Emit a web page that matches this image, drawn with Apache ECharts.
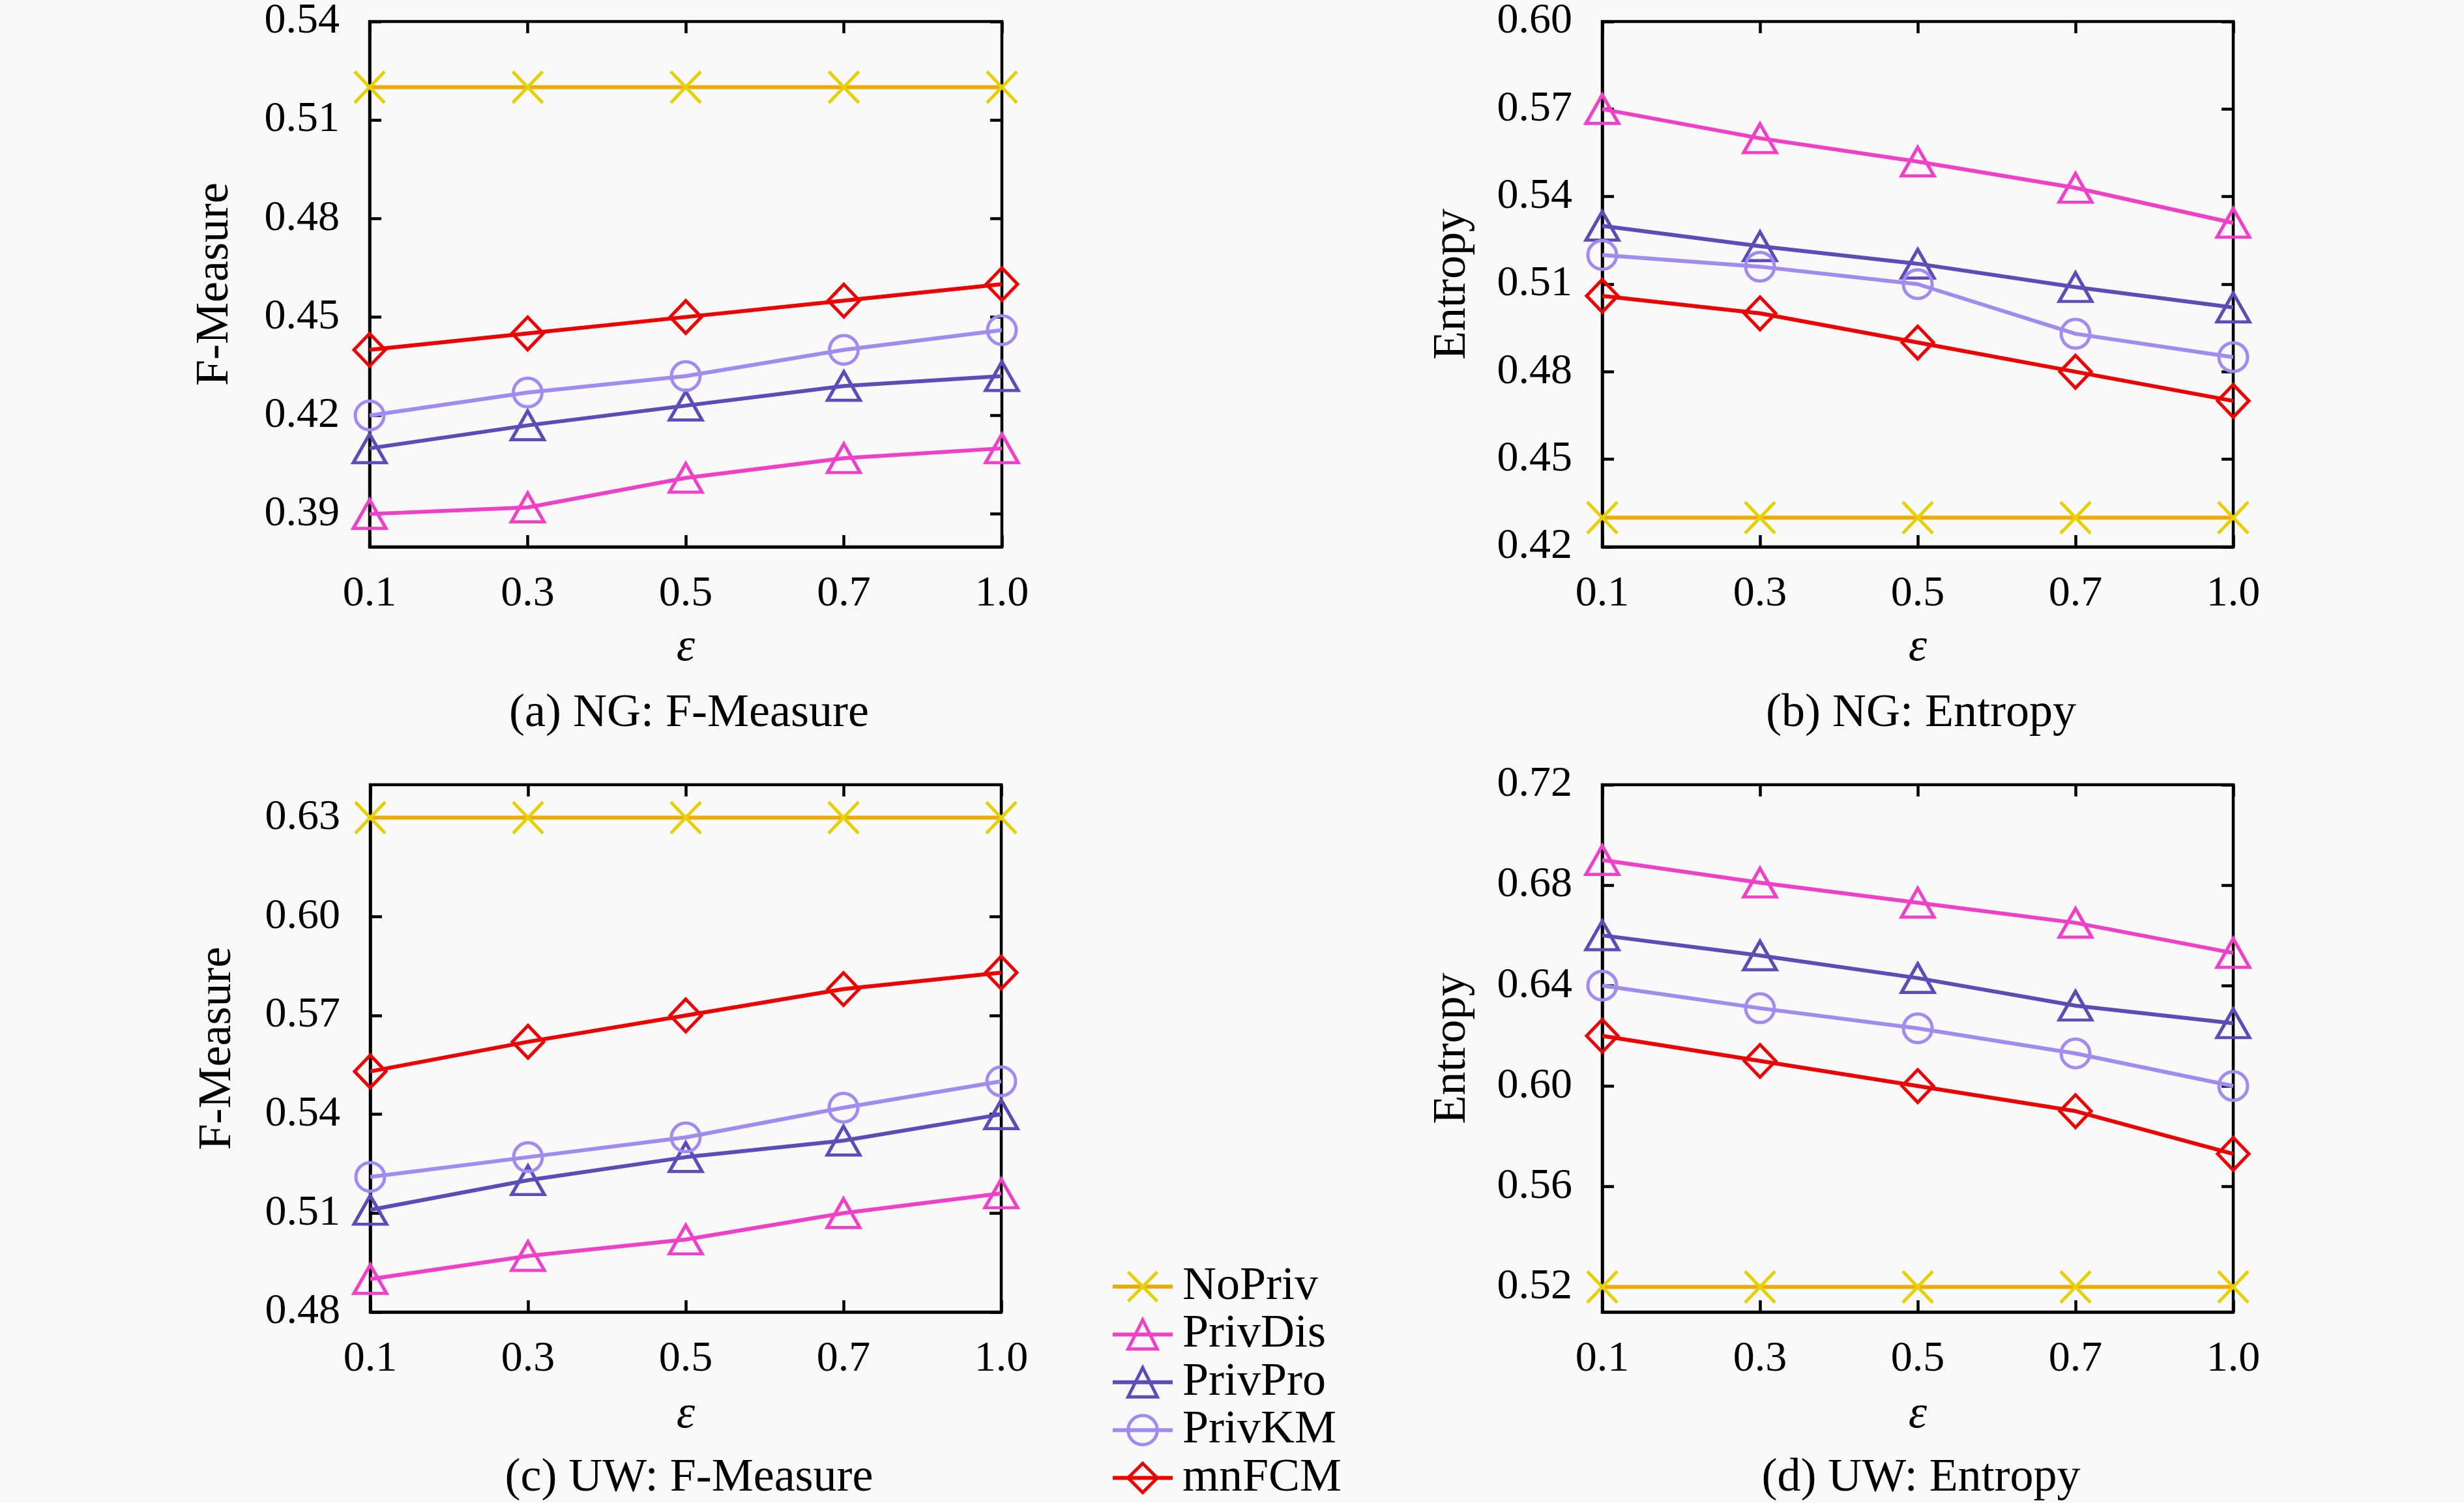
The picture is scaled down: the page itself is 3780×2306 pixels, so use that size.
<!DOCTYPE html>
<html><head><meta charset="utf-8">
<script src="https://cdn.jsdelivr.net/npm/echarts@6/dist/echarts.min.js"></script>
<style>html,body{margin:0;padding:0;background:#f9f9f9;}#c{width:3780px;height:2306px;}</style>
</head><body><div id="c"></div>
<script>
// ---- data ----
const epsilons = ['0.1', '0.3', '0.5', '0.7', '1.0'];
const seriesNames = ['NoPriv', 'PrivDis', 'PrivPro', 'PrivKM', 'mnFCM'];

// (a) NG: F-Measure
const ngF_NoPriv  = [0.52, 0.52, 0.52, 0.52, 0.52];
const ngF_PrivDis = [0.390, 0.392, 0.401, 0.407, 0.410];
const ngF_PrivPro = [0.410, 0.417, 0.423, 0.429, 0.432];
const ngF_PrivKM  = [0.420, 0.427, 0.432, 0.440, 0.446];
const ngF_mnFCM   = [0.440, 0.445, 0.450, 0.455, 0.460];
// (b) NG: Entropy
const ngE_NoPriv  = [0.43, 0.43, 0.43, 0.43, 0.43];
const ngE_PrivDis = [0.570, 0.560, 0.552, 0.543, 0.531];
const ngE_PrivPro = [0.530, 0.523, 0.517, 0.509, 0.502];
const ngE_PrivKM  = [0.520, 0.516, 0.510, 0.493, 0.485];
const ngE_mnFCM   = [0.506, 0.500, 0.490, 0.480, 0.470];
// (c) UW: F-Measure
const uwF_NoPriv  = [0.63, 0.63, 0.63, 0.63, 0.63];
const uwF_PrivDis = [0.490, 0.497, 0.502, 0.510, 0.516];
const uwF_PrivPro = [0.511, 0.520, 0.527, 0.532, 0.540];
const uwF_PrivKM  = [0.521, 0.527, 0.533, 0.542, 0.550];
const uwF_mnFCM   = [0.553, 0.562, 0.570, 0.578, 0.583];
// (d) UW: Entropy
const uwE_NoPriv  = [0.52, 0.52, 0.52, 0.52, 0.52];
const uwE_PrivDis = [0.690, 0.681, 0.673, 0.665, 0.653];
const uwE_PrivPro = [0.660, 0.652, 0.643, 0.632, 0.625];
const uwE_PrivKM  = [0.640, 0.631, 0.623, 0.613, 0.600];
const uwE_mnFCM   = [0.620, 0.610, 0.600, 0.590, 0.573];

// axis ticks
const ngF_ticks = [0.39, 0.42, 0.45, 0.48, 0.51, 0.54];
const ngE_ticks = [0.42, 0.45, 0.48, 0.51, 0.54, 0.57, 0.60];
const uwF_ticks = [0.48, 0.51, 0.54, 0.57, 0.60, 0.63];
const uwE_ticks = [0.52, 0.56, 0.60, 0.64, 0.68, 0.72];

const panelTitles = ['(a) NG: F-Measure', '(b) NG: Entropy', '(c) UW: F-Measure', '(d) UW: Entropy'];
const yNames = ['F-Measure', 'Entropy', 'F-Measure', 'Entropy'];

// ---- layout / style ----
const FONT = 'Liberation Serif';
const FS_TICK = 66;
const FS = 72;
const AXW = 4.5;
const LW = 6;
const MW = 5;
const panels = [
  {grid: {left: 567, top: 32, width: 970, height: 807}, min: 0.38, max: 0.54, ticks: ngF_ticks, nameGap: 201, xNameGap: 119, titleTop: 1054,
   data: [ngF_NoPriv, ngF_PrivDis, ngF_PrivPro, ngF_PrivKM, ngF_mnFCM]},
  {grid: {left: 2458, top: 32, width: 968, height: 807}, min: 0.42, max: 0.60, ticks: ngE_ticks, nameGap: 194, xNameGap: 119, titleTop: 1054,
   data: [ngE_NoPriv, ngE_PrivDis, ngE_PrivPro, ngE_PrivKM, ngE_mnFCM]},
  {grid: {left: 568, top: 1204, width: 968, height: 809}, min: 0.48, max: 0.64, ticks: uwF_ticks, nameGap: 198, xNameGap: 122, titleTop: 2227,
   data: [uwF_NoPriv, uwF_PrivDis, uwF_PrivPro, uwF_PrivKM, uwF_mnFCM]},
  {grid: {left: 2458, top: 1204, width: 968, height: 809}, min: 0.51, max: 0.72, ticks: uwE_ticks, nameGap: 194, xNameGap: 122, titleTop: 2227,
   data: [uwE_NoPriv, uwE_PrivDis, uwE_PrivPro, uwE_PrivKM, uwE_mnFCM]}
];

const styles = {
  NoPriv:  {line: '#f0aa00', mark: '#e6d000', symbol: 'path://M0,0L10,10M10,0L0,10', size: [46, 48]},
  PrivDis: {line: '#f040c8', mark: '#f040c8', symbol: 'triangle', size: [50, 44]},
  PrivPro: {line: '#5a4db8', mark: '#5a4db8', symbol: 'triangle', size: [50, 44]},
  PrivKM:  {line: '#a08cf0', mark: '#a08cf0', symbol: 'circle', size: [44, 44]},
  mnFCM:   {line: '#ee0000', mark: '#ee0000', symbol: 'diamond', size: [48, 50]}
};

const grids = [], xAxes = [], yAxes = [], series = [], titles = [];
const tickStyle = {show: true, inside: true, length: 18, lineStyle: {color: '#000', width: AXW}};
panels.forEach((p, i) => {
  grids.push(Object.assign({show: true, borderColor: '#000', borderWidth: AXW, backgroundColor: 'transparent'}, p.grid));
  xAxes.push({
    gridIndex: i, type: 'category', data: epsilons, boundaryGap: false, position: 'bottom',
    axisLine: {show: true, lineStyle: {color: '#000', width: AXW}},
    axisTick: tickStyle,
    axisLabel: {color: '#000', fontFamily: FONT, fontSize: FS_TICK, margin: 40},
    splitLine: {show: false},
    name: 'ε', nameLocation: 'middle', nameGap: p.xNameGap,
    nameTextStyle: {color: '#000', fontFamily: FONT, fontSize: FS, fontStyle: 'italic'}
  });
  xAxes.push({
    gridIndex: i, type: 'category', data: epsilons, boundaryGap: false, position: 'top',
    axisLine: {show: false}, axisTick: tickStyle, axisLabel: {show: false}, splitLine: {show: false}
  });
  yAxes.push({
    gridIndex: i, type: 'value', min: p.min, max: p.max, position: 'left',
    axisLine: {show: true, lineStyle: {color: '#000', width: AXW}},
    axisTick: Object.assign({customValues: p.ticks}, tickStyle),
    axisLabel: {customValues: p.ticks, color: '#000', fontFamily: FONT, fontSize: FS_TICK, margin: 46,
                formatter: v => v.toFixed(2)},
    splitLine: {show: false},
    name: yNames[i], nameLocation: 'middle', nameGap: p.nameGap,
    nameTextStyle: {color: '#000', fontFamily: FONT, fontSize: FS}
  });
  yAxes.push({
    gridIndex: i, type: 'value', min: p.min, max: p.max, position: 'right',
    axisLine: {show: false},
    axisTick: Object.assign({customValues: p.ticks}, tickStyle),
    axisLabel: {show: false}, splitLine: {show: false}
  });
  titles.push({
    text: panelTitles[i], left: p.grid.left + p.grid.width / 2, top: p.titleTop, textAlign: 'center',
    textStyle: {color: '#000', fontFamily: FONT, fontSize: FS, fontWeight: 'normal'}
  });
  seriesNames.forEach((name, k) => {
    const s = styles[name];
    series.push({
      name: name, type: 'line', xAxisIndex: 2 * i, yAxisIndex: 2 * i,
      data: p.data[k], symbol: s.symbol, symbolSize: s.size, showSymbol: true,
      lineStyle: {color: s.line, width: LW},
      itemStyle: {color: 'transparent', borderColor: s.mark, borderWidth: MW},
      emphasis: {disabled: true}, z: 2 + k
    });
  });
});

// one legend block per entry so the row spacing matches the reference
const legends = seriesNames.map((name, k) => ({
  data: [name], orient: 'vertical', left: 1704, top: 1938 + k * 73.4, padding: 0,
  itemWidth: 92, itemHeight: 56, selectedMode: false,
  lineStyle: {width: LW},
  itemStyle: {borderWidth: MW},
  textStyle: {color: '#000', fontFamily: FONT, fontSize: FS, padding: [0, 0, 0, 10]}
}));

const chart = echarts.init(document.getElementById('c'), null, {renderer: 'canvas'});
chart.setOption({
  backgroundColor: '#f9f9f9',
  animation: false,
  title: titles,
  grid: grids,
  xAxis: xAxes,
  yAxis: yAxes,
  legend: legends,
  series: series
});
</script>
</body></html>
